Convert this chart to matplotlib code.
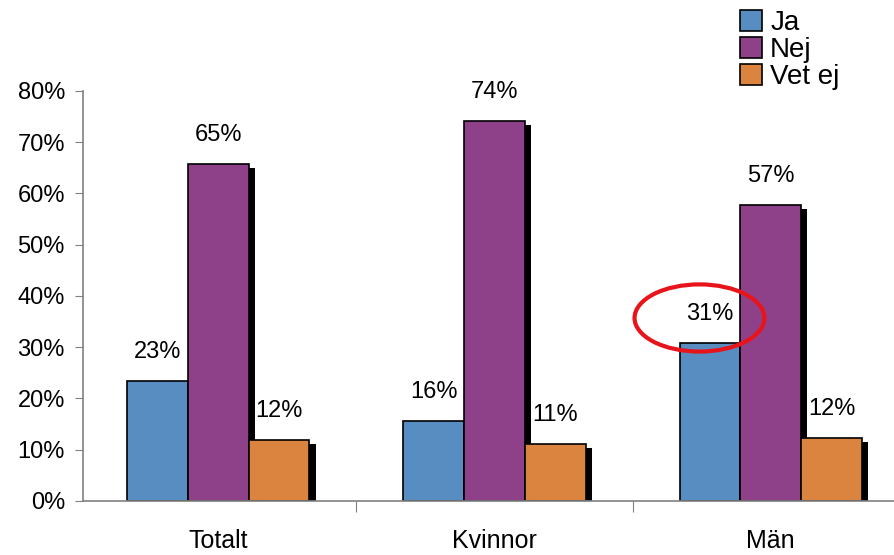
import matplotlib
matplotlib.use('Agg')
import matplotlib.pyplot as plt
import numpy as np
from matplotlib.patches import Ellipse

plt.rcParams['font.family'] = ['Liberation Sans', 'DejaVu Sans']

categories = ['Totalt', 'Kvinnor', 'Män']
series = ['Ja', 'Nej', 'Vet ej']
ja = [23.4, 15.6, 30.8]
nej = [65.7, 74.1, 57.7]
vet_ej = [11.9, 11.1, 12.3]
labels_ja = ['23%', '16%', '31%']
labels_nej = ['65%', '74%', '57%']
labels_vet = ['12%', '11%', '12%']
colors = ['#578dc0', '#8e4088', '#da843f']

fig = plt.figure(figsize=(8.95, 5.55), dpi=100)
ax = fig.add_axes([0.0927, 0.0973, 0.9073, 0.739])

x = np.arange(len(categories))
w = 0.22
offsets = [-w, 0, w]
all_vals = [ja, nej, vet_ej]
all_labels = [labels_ja, labels_nej, labels_vet]

for vals, labs, off, col, name in zip(all_vals, all_labels, offsets, colors, series):
    vals = np.array(vals)
    # shadow behind the bar
    ax.bar(x + off + 0.022, vals - 0.7, w, color='black', zorder=1)
    ax.bar(x + off, vals, w, color=col, edgecolor='black', linewidth=1.2,
           zorder=2, label=name)
    for xi, v, t in zip(x + off, vals, labs):
        ax.text(xi, v + 5.6, t, ha='center', va='center', fontsize=17, zorder=3)

# red ring around Män / Ja
ax.add_patch(Ellipse((2 - 0.258, 35.7), 0.47, 13.1, fill=False,
                     edgecolor='#e8141b', linewidth=3, zorder=4))

ax.set_xlim(-0.49, 2.45)
ax.set_ylim(0, 80)
ax.set_yticks(np.arange(0, 81, 10))
ax.set_yticklabels([f'{v}%' for v in range(0, 81, 10)], fontsize=17)
ax.set_xticks([0.5, 1.5])
ax.set_xticklabels([])
ax.set_xticks(x, minor=True)
ax.set_xticklabels(categories, minor=True, fontsize=18)
ax.tick_params(axis='x', which='minor', length=0, pad=20)
ax.tick_params(axis='x', which='major', length=8, color='#808080')
ax.tick_params(axis='y', length=6, color='#808080', pad=7)

for s in ['top', 'right']:
    ax.spines[s].set_visible(False)
for s in ['left', 'bottom']:
    ax.spines[s].set_color('#808080')
    ax.spines[s].set_linewidth(1.2)

leg = ax.legend(loc='upper left', bbox_to_anchor=(0.795, 1.225), frameon=False,
                fontsize=20, handlelength=0.8, handleheight=0.8,
                handletextpad=0.3, labelspacing=0.03, borderaxespad=0)

fig.savefig('out.png', dpi=100)
